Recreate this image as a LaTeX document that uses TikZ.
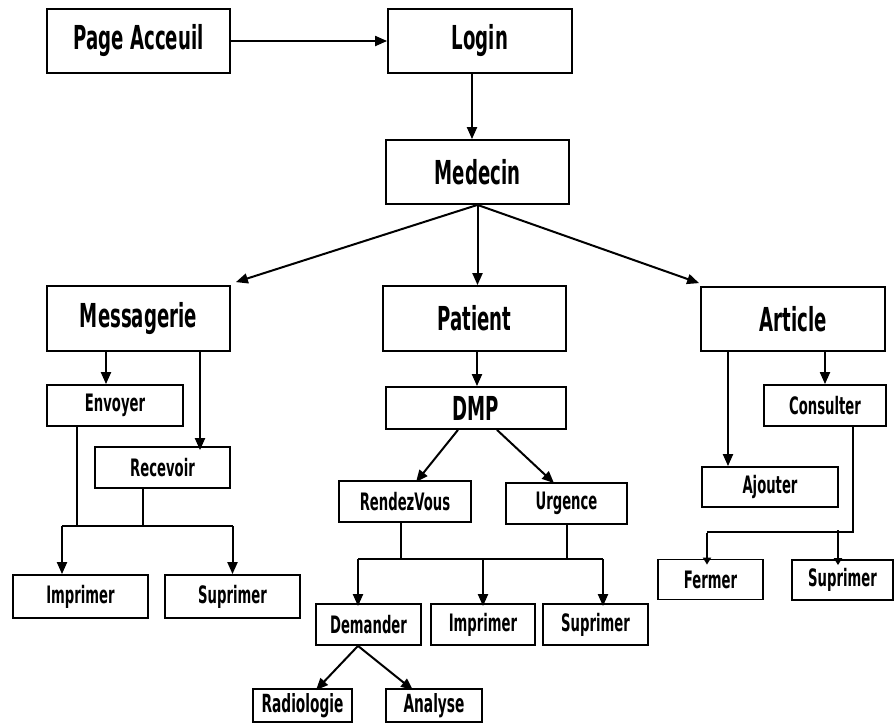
\documentclass[tikz,border=0pt]{standalone}
\usepackage{fontspec}
\usetikzlibrary{arrows.meta}
\newfontfamily\boxfont[FakeStretch=0.55]{DejaVu Sans}
\tikzset{
  box/.style={draw, line width=1.8pt, inner sep=0pt, font=\boxfont\bfseries},
  bigbox/.style={box, font=\boxfont\bfseries\fontsize{33}{33}\selectfont},
  smallbox/.style={box, font=\boxfont\bfseries\fontsize{24}{24}\selectfont},
  tinybox/.style={box, font=\boxfont\bfseries\fontsize{25}{25}\selectfont},
  wire/.style={line width=2pt},
  arr/.style={wire, -{Triangle[length=12pt,width=10pt]}},
  sarr/.style={wire, -{Triangle[length=7pt,width=8pt]}},
}
\begin{document}
\begin{tikzpicture}[x=1pt,y=-1pt]
\useasboundingbox (0,0) rectangle (895,724);

% top row
\node[bigbox, minimum width=183pt, minimum height=64pt] (pa) at (138.5,41) {Page Acceuil};
\node[bigbox, minimum width=184pt, minimum height=64pt] (login) at (480,41) {Login};
\node[bigbox, minimum width=183pt, minimum height=64pt] (med) at (477.5,172) {Medecin};

% main modules
\node[bigbox, minimum width=183pt, minimum height=65pt] (mess) at (138.5,318.5) {Messagerie};
\node[bigbox, minimum width=183pt, minimum height=65pt] (pat) at (474.5,318.5) {Patient};
\node[bigbox, minimum width=184pt, minimum height=64pt] (art) at (793,319) {Article};

% messagerie branch
\node[smallbox, minimum width=136pt, minimum height=41pt] (env) at (115,405.5) {Envoyer};
\node[smallbox, minimum width=135pt, minimum height=41pt] (rec) at (162.5,467.5) {Recevoir};
\node[smallbox, minimum width=135pt, minimum height=43pt] (imp1) at (80.5,596.5) {Imprimer};
\node[smallbox, minimum width=135pt, minimum height=43pt] (sup1) at (232.5,596.5) {Suprimer};

% patient branch
\node[bigbox, minimum width=180pt, minimum height=42pt] (dmp) at (476,408) {DMP};
\node[smallbox, minimum width=132pt, minimum height=41pt] (rdv) at (405,501.5) {RendezVous};
\node[smallbox, minimum width=121pt, minimum height=41pt] (urg) at (566.5,503.5) {Urgence};
\node[smallbox, minimum width=105pt, minimum height=41pt] (dem) at (368.5,624.5) {Demander};
\node[smallbox, minimum width=104pt, minimum height=41pt] (imp2) at (483,624.5) {Imprimer};
\node[smallbox, minimum width=105pt, minimum height=41pt] (sup2) at (595.5,624.5) {Suprimer};
\node[tinybox, minimum width=99pt, minimum height=33pt] (radio) at (302.5,705.5) {Radiologie};
\node[tinybox, minimum width=96pt, minimum height=33pt] (ana) at (434,705.5) {Analyse};

% article branch
\node[smallbox, minimum width=122pt, minimum height=41pt] (cons) at (825,405.5) {Consulter};
\node[smallbox, minimum width=136pt, minimum height=40pt] (aj) at (770,487) {Ajouter};
\node[smallbox, minimum width=105pt, minimum height=40pt] (fer) at (710.5,579.5) {Fermer};
\node[smallbox, minimum width=101pt, minimum height=40pt] (sup3) at (842.5,580) {Suprimer};

% top connectors
\draw[arr] (pa.east) -- (login.west);
\coordinate (l1) at ([xshift=-8pt]login.south);
\draw[arr] (l1) -- (l1 |- med.north);
\coordinate (medb) at (med.south);
\draw[arr] (medb) -- ([xshift=5pt,yshift=3pt]mess.north east);
\draw[arr] (medb) -- (medb |- pat.north);
\draw[arr] (medb) -- ([xshift=-1pt,yshift=3pt]art.north west);

% messagerie connectors
\coordinate (m1) at ([xshift=-32.5pt]mess.south);
\coordinate (m2) at ([xshift=61.5pt]mess.south);
\draw[arr] (m1) -- (m1 |- env.north);
\draw[arr] (m2) -- ([yshift=-4pt]m2 |- rec.north);
\coordinate (mbar) at (0,526);
\coordinate (e1) at ([xshift=-38pt]env.south);
\coordinate (r1) at ([xshift=-19.5pt]rec.south);
\coordinate (i1) at ([xshift=-18.5pt]imp1.north);
\draw[wire] (e1) -- (e1 |- mbar);
\draw[wire] (r1) -- (r1 |- mbar);
\draw[wire] (i1 |- mbar) -- (sup1.north |- mbar);
\draw[arr] (i1 |- mbar) -- (i1);
\draw[arr] (sup1.north |- mbar) -- (sup1.north);

% patient connectors
\coordinate (p1) at ([xshift=2.5pt]pat.south);
\draw[arr] (p1) -- (p1 |- dmp.north);
\draw[arr] ([xshift=-18pt]dmp.south) -- ([xshift=11pt,yshift=-2pt]rdv.north);
\draw[arr] ([xshift=21pt]dmp.south) -- ([xshift=-12.5pt,yshift=-1pt]urg.north);
\coordinate (pbar) at (0,559);
\coordinate (rv1) at ([xshift=-4pt]rdv.south);
\coordinate (d1) at ([xshift=-10.5pt]dem.north);
\coordinate (s2) at ([xshift=7.5pt]sup2.north);
\draw[wire] (rv1) -- (rv1 |- pbar);
\draw[wire] (urg.south) -- (urg.south |- pbar);
\draw[wire] (d1 |- pbar) -- (s2 |- pbar);
\draw[arr] (d1 |- pbar) -- ([yshift=-3pt]d1);
\draw[arr] (imp2.north |- pbar) -- ([yshift=-3pt]imp2.north);
\draw[arr] (s2 |- pbar) -- ([yshift=-3pt]s2);
\coordinate (d2) at ([xshift=-10.5pt]dem.south);
\draw[arr] (d2) -- ([xshift=13.5pt,yshift=-2pt]radio.north);
\draw[arr] (d2) -- ([xshift=-21pt,yshift=-2pt]ana.north);

% article connectors
\coordinate (a1) at ([xshift=-65pt]art.south);
\draw[arr] (a1) -- (a1 |- aj.north);
\draw[arr] (cons.north |- art.south) -- (cons.north);
\coordinate (abar) at (0,532);
\coordinate (c1) at ([xshift=28pt]cons.south);
\coordinate (f1) at ([xshift=-3.5pt]fer.north);
\coordinate (s3) at ([xshift=-4.5pt]sup3.north);
\draw[wire] (c1) -- (c1 |- abar) -- (f1 |- abar);
\draw[sarr] ([yshift=-1pt]f1 |- abar) -- ([yshift=-6pt]f1);
\draw[sarr] ([yshift=2pt]s3 |- abar) -- ([yshift=-6pt]s3);
\end{tikzpicture}
\end{document}
